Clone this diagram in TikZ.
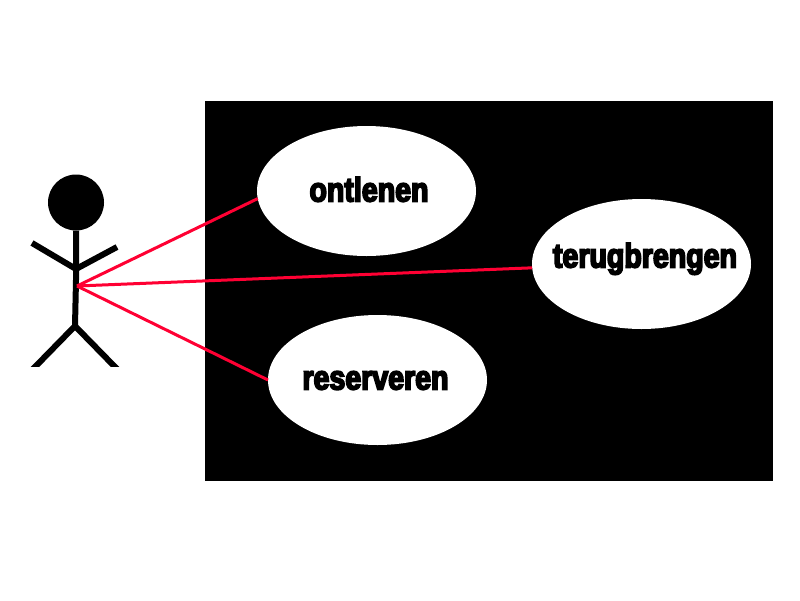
\documentclass[tikz,border=0pt]{standalone}
\usepackage{fontspec}
\usetikzlibrary{shapes.geometric}
\newfontfamily\impactish[FakeStretch=0.84,FakeBold=5]{Liberation Sans Bold}
\definecolor{linkred}{HTML}{FF0033}
\newcommand{\placed}[3]{\raisebox{#2pt}[0pt][0pt]{\makebox[0pt]{\hspace*{#1pt}#3}}}
\tikzset{
  usecase/.style={ellipse,fill=white,draw=none,minimum width=219pt,minimum height=130pt,inner sep=0pt,outer sep=0pt,font=\impactish\fontsize{34}{34}\selectfont,text=black},
  limb/.style={draw=black,line width=6pt,line cap=butt,line join=miter},
  link/.style={draw=linkred,line width=3pt}
}
\begin{document}
\begin{tikzpicture}[x=1pt,y=-1pt]
\useasboundingbox (0,0) rectangle (800,600);
\fill[white] (0,0) rectangle (800,600);
\fill[black] (205,101) rectangle (773,481);
\node[usecase] (ontlenen) at (366.5,191) {\placed{5}{-10.5}{ontlenen}};
\node[usecase] (terug) at (641.5,264) {\placed{7}{-3.5}{terugbrengen}};
\node[usecase] (reserveren) at (377.5,380) {\placed{-4}{-9.5}{reserveren}};
\node[circle,fill=black,minimum size=56pt,inner sep=0pt,outer sep=0pt] (head) at (76,202.5) {};
\coordinate (neck) at (76,269);
\coordinate (hip) at (75,326);
\coordinate (hub) at (77,286);
\coordinate (handl) at (32,243);
\coordinate (handr) at (117,247);
\coordinate (footl) at (32,370);
\coordinate (footr) at (118,370);
\draw[limb] (head.south) -- (76,280) -- (hip);
\draw[limb] (handl) -- (neck) -- (handr);
\begin{scope}
\clip (0,300) rectangle (140,366.5);
\draw[limb] (footl) -- (hip) -- (footr);
\end{scope}
\draw[link] (hub) -- (ontlenen.184);
\draw[link] (hub) -- (terug.182);
\draw[link] (hub) -- (reserveren.180);
\end{tikzpicture}
\end{document}
